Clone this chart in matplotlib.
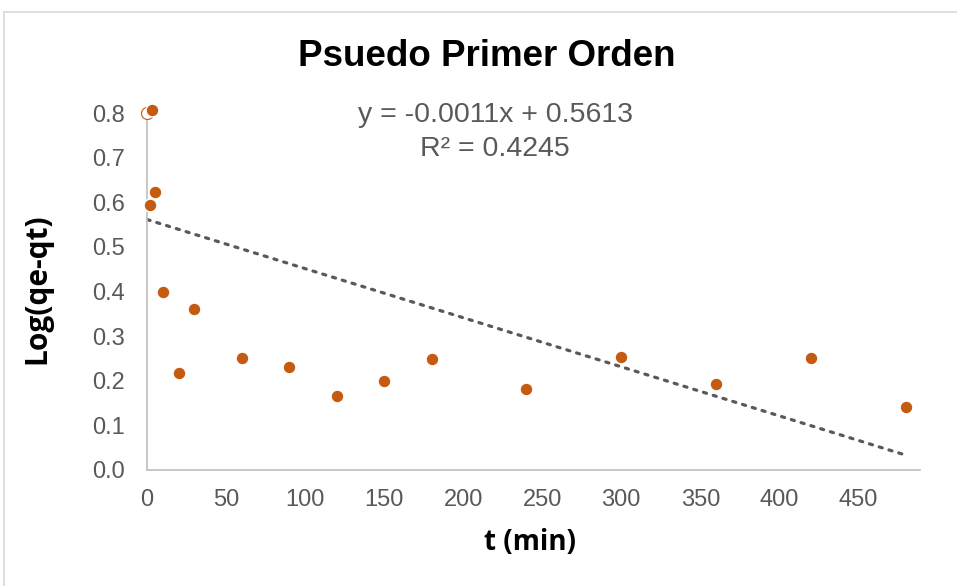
import numpy as np
import matplotlib.pyplot as plt
from matplotlib.lines import Line2D

plt.rcParams['font.family'] = ['Liberation Sans', 'DejaVu Sans']

# tiempo (min) y log(qe - qt)
t_min = [0, 3, 2, 5, 10, 20, 30, 60, 90, 120, 150, 180, 240, 300, 360, 420, 480]
log_q = [0.800, 0.807, 0.594, 0.623, 0.399, 0.217, 0.361, 0.251, 0.231,
         0.166, 0.199, 0.249, 0.182, 0.253, 0.193, 0.251, 0.141]

slope = -0.0011
intercept = 0.5613
r2 = 0.4245

orange = '#C55A11'
grey = '#595959'

fig = plt.figure(figsize=(9.57, 5.86), dpi=100)
ax = fig.add_axes([147/957, 1 - 470/586, (920 - 147)/957, (470 - 113)/586])

# marco del grafico
fig.add_artist(Line2D([4/957, 4/957], [0, 1 - 12/586], color='#d9d9d9', lw=1.2))
fig.add_artist(Line2D([4/957, 1], [1 - 12/586, 1 - 12/586], color='#d9d9d9', lw=1.2))

# primer punto casi tapado por el siguiente
ax.scatter(t_min[:1], log_q[:1], s=75, facecolor='white', edgecolor=orange,
           linewidth=0.8, zorder=3, clip_on=False)
ax.scatter(t_min[1:], log_q[1:], s=85, color=orange, edgecolor='white',
           linewidth=1.0, zorder=4, clip_on=False)

xt = np.array([0, 480])
ax.plot(xt, slope*xt + intercept, linestyle=(0, (1, 2.2)), color=grey,
        lw=2.3, dash_capstyle='round', zorder=2)

ax.set_xlim(0, 489)
ax.set_ylim(0, 0.8)
ax.set_xticks(range(0, 451, 50))
ax.set_yticks(np.arange(0, 0.81, 0.1))
ax.set_yticklabels([f'{v:.1f}' for v in np.arange(0, 0.81, 0.1)])
ax.tick_params(length=0, labelsize=17, colors=grey)
ax.tick_params(axis='x', pad=14)
ax.tick_params(axis='y', pad=16)

for s in ['top', 'right']:
    ax.spines[s].set_visible(False)
for s in ['left', 'bottom']:
    ax.spines[s].set_color('#bfbfbf')
    ax.spines[s].set_linewidth(1.2)

fig.text(487/957, 1 - 56/586, 'Psuedo Primer Orden', ha='center', va='center',
         fontsize=26.5, fontweight='bold')
fig.text(495/957, 1 - 115/586, f'y = {slope}x + {intercept}', ha='center',
         va='center', fontsize=20.5, color=grey)
fig.text(495/957, 1 - 149/586, f'R² = {r2}', ha='center', va='center',
         fontsize=20.5, color=grey)
fig.text(530/957, 1 - 542/586, 't (min)', ha='center', va='center',
         fontsize=20, fontweight='bold', family=['Open Sans', 'DejaVu Sans'])
fig.text(37/957, 1 - 289/586, 'Log(qe-qt)', ha='center', va='center',
         fontsize=21.5, fontweight='bold', rotation=90,
         family=['Open Sans', 'DejaVu Sans'])

fig.savefig('out.png', dpi=100)
